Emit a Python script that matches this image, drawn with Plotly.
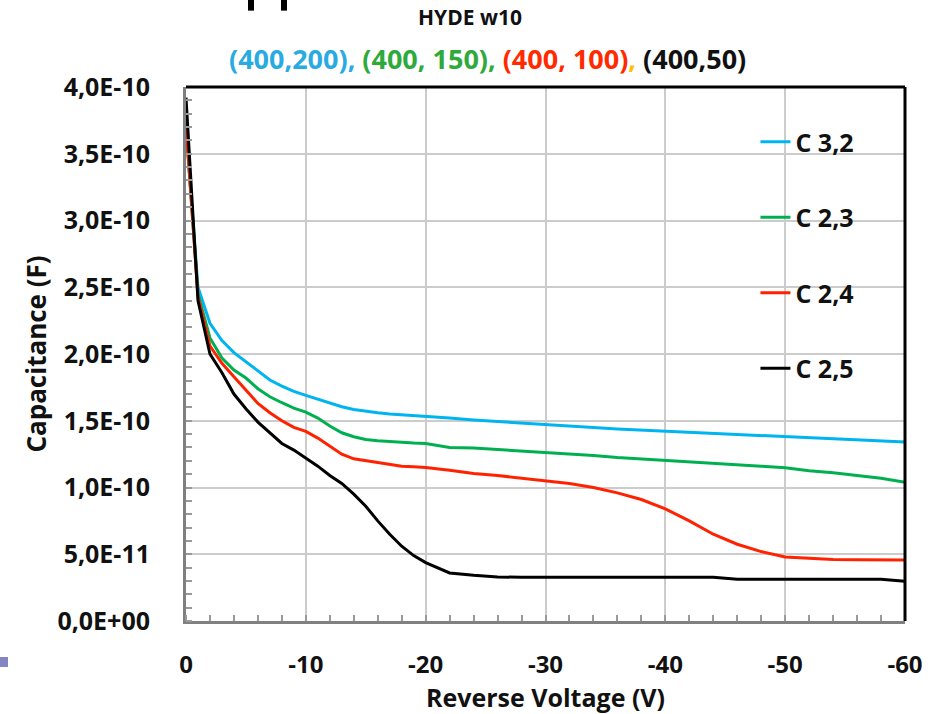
import plotly.graph_objects as go

# ---------------- data ----------------
voltage = [0, -1, -2, -3, -4, -5, -6, -7, -8, -9, -10, -11, -12, -13, -14, -15, -16, -17, -18, -19, -20,
           -22, -24, -26, -28, -30, -32, -34, -36, -38, -40, -42, -44, -46, -48, -50, -52, -54, -56, -58, -60]

# capacitance values in units of 1E-11 F
c32_e11 = [37.0, 25.0, 22.3, 21.0, 20.1, 19.4, 18.7, 18.05, 17.6, 17.2, 16.9, 16.6, 16.3, 16.05, 15.85, 15.7, 15.6, 15.5, 15.45, 15.4, 15.35,
           15.2, 15.05, 14.95, 14.85, 14.73, 14.6, 14.5, 14.38, 14.3, 14.23, 14.15, 14.08, 14.0, 13.9, 13.81, 13.75, 13.65, 13.58, 13.5, 13.4]
c23_e11 = [37.0, 24.5, 21.2, 19.7, 18.8, 18.2, 17.4, 16.8, 16.35, 15.95, 15.65, 15.2, 14.6, 14.1, 13.8, 13.6, 13.5, 13.43, 13.38, 13.33, 13.3,
           13.0, 12.95, 12.85, 12.75, 12.63, 12.5, 12.4, 12.25, 12.15, 12.0, 11.95, 11.8, 11.7, 11.6, 11.48, 11.25, 11.1, 10.9, 10.7, 10.4]
c24_e11 = [37.3, 24.3, 20.6, 19.3, 18.3, 17.3, 16.3, 15.6, 15.0, 14.5, 14.2, 13.7, 13.1, 12.5, 12.15, 12.0, 11.85, 11.72, 11.6, 11.55, 11.5,
           11.3, 11.05, 10.9, 10.7, 10.55, 10.3, 10.0, 9.6, 9.1, 8.4, 7.5, 6.5, 5.75, 5.2, 4.8, 4.68, 4.6, 4.58, 4.57, 4.57]
c25_e11 = [39.2, 24.0, 20.0, 18.6, 17.0, 15.9, 14.9, 14.1, 13.3, 12.8, 12.2, 11.6, 10.9, 10.3, 9.5, 8.6, 7.5, 6.5, 5.6, 4.9, 4.37,
           3.6, 3.42, 3.3, 3.27, 3.27, 3.27, 3.27, 3.27, 3.27, 3.27, 3.27, 3.27, 3.12, 3.12, 3.12, 3.12, 3.12, 3.12, 3.12, 2.97]

series_names = ["C 3,2", "C 2,3", "C 2,4", "C 2,5"]
series_colors = ["#00b4f0", "#00b050", "#ff2200", "#000000"]

x_tickvals = [0, -10, -20, -30, -40, -50, -60]
x_ticktext = ["0", "-10", "-20", "-30", "-40", "-50", "-60"]
y_tickvals = [0, 5e-11, 1e-10, 1.5e-10, 2e-10, 2.5e-10, 3e-10, 3.5e-10, 4e-10]
y_ticktext = ["0,0E+00", "5,0E-11", "1,0E-10", "1,5E-10", "2,0E-10", "2,5E-10", "3,0E-10", "3,5E-10", "4,0E-10"]

title_main = "HYDE w10"
subtitle_parts = [("(400,200), ", "#29abe2"), ("(400, 150), ", "#2eaa3c"), ("(400, 100)", "#ff2a00"),
                  (",", "#ffc000"), (" (400,50)", "#111111")]

# ---------------- figure ----------------
FONT = "Open Sans"
FS = 25
fig = go.Figure()
all_series = [c32_e11, c23_e11, c24_e11, c25_e11]
for name, color, vals in zip(series_names, series_colors, all_series):
    fig.add_trace(go.Scatter(
        x=voltage, y=[v * 1e-11 for v in vals], mode="lines", name=name,
        legendgroup=name, line=dict(color=color, width=3),
    ))

subtitle = "".join(f'<span style="color:{c}">{t}</span>' for t, c in subtitle_parts)

fig.update_layout(
    width=936, height=714,
    margin=dict(l=186, r=31, t=87, b=93),
    paper_bgcolor="white", plot_bgcolor="white",
    font=dict(family=FONT, color="#111111"),
    showlegend=True,
    legend=dict(x=0.792, y=0.94, xanchor="left", yanchor="top",
                bgcolor="rgba(0,0,0,0)", borderwidth=0,
                font=dict(size=FS, family=FONT, color="#111111", weight="bold"),
                tracegroupgap=40, itemwidth=30),
    annotations=[
        dict(text=f"<b>{title_main}</b>", xref="paper", yref="paper", x=0.395, y=1.131,
             xanchor="center", yanchor="middle", showarrow=False,
             font=dict(size=21, family=FONT, color="#111111")),
        dict(text=f"<b>{subtitle}</b>", xref="paper", yref="paper", x=0.42, y=1.054,
             xanchor="center", yanchor="middle", showarrow=False,
             font=dict(size=27, family=FONT)),
    ],
    shapes=[
        # plot-area border on top and right
        dict(type="line", xref="paper", yref="paper", x0=0, x1=1, y0=1, y1=1,
             line=dict(color="#000000", width=3)),
        dict(type="line", xref="paper", yref="paper", x0=1, x1=1, y0=0, y1=1,
             line=dict(color="#000000", width=3)),
        # fragments of the surrounding slide
        dict(type="rect", xref="paper", yref="paper", x0=0.0862, x1=0.0946, y0=1.143, y1=1.17,
             fillcolor="#000000", line=dict(width=0)),
        dict(type="rect", xref="paper", yref="paper", x0=0.1321, x1=0.1405, y0=1.143, y1=1.17,
             fillcolor="#000000", line=dict(width=0)),
        dict(type="rect", xref="paper", yref="paper", x0=-0.2587, x1=-0.2476, y0=-0.0861, y1=-0.0674,
             fillcolor="#8585c2", line=dict(width=0)),
    ],
)

fig.update_xaxes(
    range=[0, -60], tickvals=x_tickvals, ticktext=x_ticktext,
    showgrid=True, gridcolor="#cccccc", gridwidth=2,
    showline=True, linecolor="#808080", linewidth=3,
    ticks="", ticklabelstandoff=20,
    tickfont=dict(size=24, family=FONT, color="#111111", weight="bold"),
    minor=dict(dtick=2, tick0=0, ticks="inside", ticklen=6, tickcolor="#999999", tickwidth=1.5, showgrid=False),
    zeroline=False,
    title=dict(text="<b>Reverse Voltage (V)</b>", font=dict(size=25, family=FONT, color="#111111"), standoff=6),
)
fig.update_yaxes(
    range=[0, 4e-10], tickvals=y_tickvals, ticktext=y_ticktext,
    showgrid=True, gridcolor="#cccccc", gridwidth=2,
    showline=True, linecolor="#808080", linewidth=3,
    ticks="", ticklabelstandoff=28,
    tickfont=dict(size=FS, family=FONT, color="#111111", weight="bold"),
    minor=dict(dtick=1e-11, tick0=0, ticks="inside", ticklen=6, tickcolor="#999999", tickwidth=1.5, showgrid=False),
    zeroline=False,
    title=dict(text="<b>Capacitance (F)</b>", font=dict(size=26, family=FONT, color="#111111"), standoff=4),
)

fig.write_html("out.html")
